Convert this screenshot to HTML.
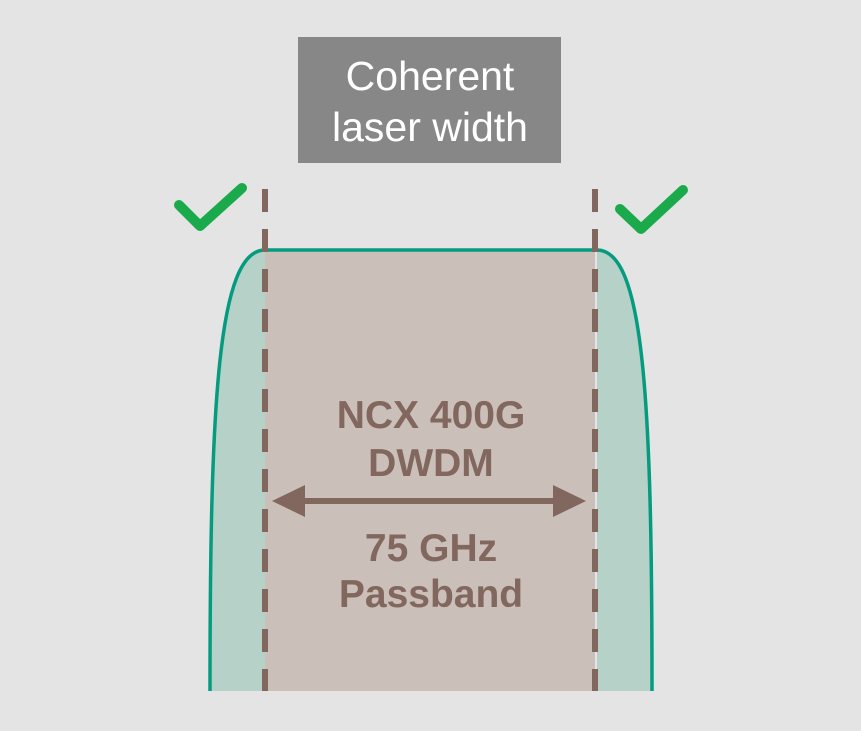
<!DOCTYPE html>
<html><head><style>
body{margin:0;width:861px;height:731px;background:#e4e4e4;overflow:hidden;font-family:"Liberation Sans",Arial,sans-serif}
</style></head><body>
<svg width="861" height="731" viewBox="0 0 861 731" style="position:absolute;left:0;top:0">
<rect x="298" y="37" width="263" height="126" fill="#878787"/>
<text x="430" y="90" font-size="41" fill="#fff" text-anchor="middle" font-family="Liberation Sans">Coherent</text>
<text x="430" y="141" font-size="41" fill="#fff" text-anchor="middle" font-family="Liberation Sans">laser width</text>
<path d="M210,691 C210,400 218,250 265,250 L265,691 Z" fill="#b6d1c8"/>
<path d="M652,691 C652,400 644,250 597,250 L597,691 Z" fill="#b6d1c8"/>
<rect x="265" y="250" width="330" height="441" fill="#cbbfba"/>
<path d="M210,691 C210,400 218,250 265,250 L597,250 C644,250 652,400 652,691" fill="none" stroke="#049b7e" stroke-width="3.5"/>
<line x1="265" y1="189" x2="265" y2="691" stroke="#82675f" stroke-width="6" stroke-dasharray="23 17"/>
<line x1="595" y1="189" x2="595" y2="691" stroke="#82675f" stroke-width="6" stroke-dasharray="23 17"/>
<polyline points="179,205 200,226 242,188" fill="none" stroke="#1aaa4c" stroke-width="10" stroke-linecap="round" stroke-linejoin="round"/>
<polyline points="620,209 641,229 683,190" fill="none" stroke="#1aaa4c" stroke-width="10" stroke-linecap="round" stroke-linejoin="round"/>
<line x1="295" y1="501" x2="565" y2="501" stroke="#82675f" stroke-width="6"/>
<polygon points="272,501 305,485 305,517" fill="#82675f"/>
<polygon points="586,501 553,485 553,517" fill="#82675f"/>
<g font-family="Liberation Sans" font-weight="bold" font-size="39" fill="#82675f" text-anchor="middle">
<text x="431" y="428">NCX 400G</text>
<text x="431" y="476">DWDM</text>
<text x="431" y="561">75 GHz</text>
<text x="431" y="607">Passband</text>
</g>
</svg>
</body></html>
